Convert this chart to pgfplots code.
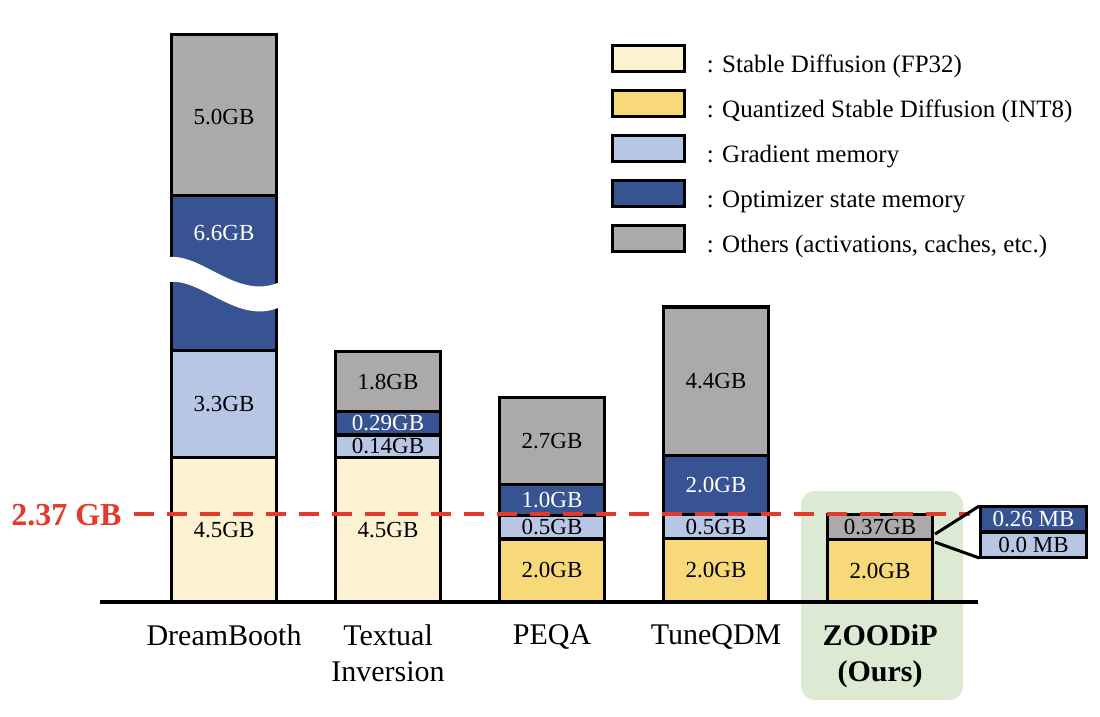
\documentclass[border=0pt]{standalone}
\usepackage{pgfplots}
\pgfplotsset{compat=1.18}
\usepackage{fontspec}
\setmainfont{Liberation Serif}
\definecolor{fp32}{HTML}{FCF1D0}
\definecolor{int8}{HTML}{F8D97A}
\definecolor{grad}{HTML}{B7C6E4}
\definecolor{opt}{HTML}{385391}
\definecolor{oth}{HTML}{ABA9A9}
\definecolor{ours}{HTML}{DCE9D3}
\definecolor{redl}{HTML}{E5392C}
\pgfplotsset{
  mybar/.style={fill=#1, draw=black, line width=1.6pt,
    legend image code/.code={\draw[fill=#1,draw=black,line width=1.5pt] (0pt,0.1pt) rectangle (36pt,13.1pt);}},
}
\tikzset{barlab/.style={font=\fontsize{11.5}{13}\selectfont, inner sep=0pt, text=black}}
\begin{document}
\begin{tikzpicture}
\begin{axis}[
  axis on top,
  scale only axis,
  width=439pt, height=289.8pt,
  xmin=-0.7561, xmax=4.5976,
  ymin=0, ymax=18,
  ybar stacked,
  reverse stacked plots=false,
  bar width=52.5pt,
  clip=false,
  axis x line=bottom,
  axis y line=none,
  axis line style={line width=2pt,-},
  xtick={0,1,2,3,4},
  xticklabels={DreamBooth,{Textual\\Inversion},PEQA,TuneQDM,{\textbf{ZOODiP}\\\textbf{(Ours)}}},
  xticklabel style={font=\fontsize{15}{18}\selectfont, align=center, inner sep=0pt, yshift=-11pt},
  major tick length=0pt,
  ytick=\empty,
  legend style={at={(0.5814,0.9627)}, anchor=north west, draw=none, fill=none, inner sep=0pt,
    row sep=5.65pt, column sep=10.5pt, cells={anchor=base west},
    nodes={inner sep=0pt, font=\fontsize{12.5}{15}\selectfont, text height=9pt, text depth=3pt}},
]
\fill[ours, rounded corners=7pt] (axis cs:3.518,-3.043) rectangle (axis cs:4.506,3.447);

\addplot[mybar=fp32] coordinates {(0,4.49) (1,4.49) (2,0) (3,0) (4,0)};
\addlegendentry{: Stable Diffusion (FP32)}
\addplot[mybar=int8] coordinates {(0,0) (1,0) (2,1.96) (3,1.97) (4,1.94)};
\addlegendentry{: Quantized Stable Diffusion (INT8)}
\addplot[mybar=grad] coordinates {(0,3.33) (1,0.70) (2,0.72) (3,0.75) (4,0)};
\addlegendentry{: Gradient memory}
\addplot[mybar=opt] coordinates {(0,4.81) (1,0.72) (2,0.98) (3,1.83) (4,0)};
\addlegendentry{: Optimizer state memory}
\addplot[mybar=oth] coordinates {(0,5.00) (1,1.86) (2,2.68) (3,4.61) (4,0.78)};
\addlegendentry{: Others (activations, caches, etc.)}

% break in DreamBooth optimizer bar
\fill[white] (axis cs:-0.366,10.68) .. controls (axis cs:-0.146,10.99) and (axis cs:0.085,9.22) .. (axis cs:0.366,10.00)
  -- (axis cs:0.366,9.22) .. controls (axis cs:0.085,8.45) and (axis cs:-0.146,10.22) .. (axis cs:-0.366,9.91) -- cycle;

% labels
\node[barlab] at (axis cs:0,2.245) {4.5GB};
\node[barlab] at (axis cs:0,6.155) {3.3GB};
\node[barlab,text=white] at (axis cs:0,11.46) {6.6GB};
\node[barlab] at (axis cs:0,15.05) {5.0GB};
\node[barlab] at (axis cs:1,2.245) {4.5GB};
\node[barlab] at (axis cs:1,4.84) {0.14GB};
\node[barlab,text=white] at (axis cs:1,5.55) {0.29GB};
\node[barlab] at (axis cs:1,6.84) {1.8GB};
\node[barlab] at (axis cs:2,0.98) {2.0GB};
\node[barlab] at (axis cs:2,2.32) {0.5GB};
\node[barlab,text=white] at (axis cs:2,3.17) {1.0GB};
\node[barlab] at (axis cs:2,5.0) {2.7GB};
\node[barlab] at (axis cs:3,0.985) {2.0GB};
\node[barlab] at (axis cs:3,2.345) {0.5GB};
\node[barlab,text=white] at (axis cs:3,3.635) {2.0GB};
\node[barlab] at (axis cs:3,6.855) {4.4GB};
\node[barlab] at (axis cs:4,0.97) {2.0GB};
\node[barlab] at (axis cs:4,2.33) {0.37GB};

% 2.37 GB reference line
\draw[redl, line width=2pt, dash pattern=on 10pt off 6.5pt] (axis cs:-0.549,2.72) -- (axis cs:4.549,2.72);
\node[anchor=east, text=redl, font=\fontsize{16}{18}\selectfont\bfseries, inner sep=0pt] at (axis cs:-0.622,2.70) {2.37 GB};

% callout
\draw[black, line width=1.5pt] (axis cs:4.335,2.11) -- (axis cs:4.604,2.98);
\draw[black, line width=1.5pt] (axis cs:4.335,1.86) -- (axis cs:4.604,1.37);
\filldraw[fill=opt, draw=black, line width=1.6pt] (axis cs:4.613,2.174) rectangle (axis cs:5.259,2.966);
\filldraw[fill=grad, draw=black, line width=1.6pt] (axis cs:4.613,1.382) rectangle (axis cs:5.259,2.174);
\node[barlab,text=white] at (axis cs:4.936,2.578) {0.26 MB};
\node[barlab] at (axis cs:4.936,1.77) {0.0 MB};

\coordinate (bbBL) at (axis cs:-1.366,-3.540);
\coordinate (bbTR) at (axis cs:5.341,18.696);
\end{axis}
\pgfresetboundingbox
\path[use as bounding box] (bbBL) rectangle (bbTR);
\end{tikzpicture}
\end{document}
